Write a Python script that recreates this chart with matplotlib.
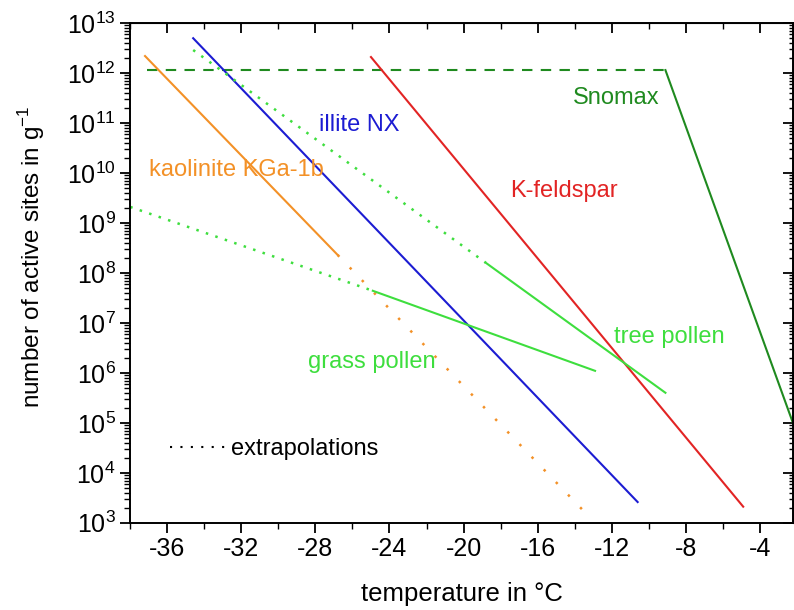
import numpy as np
import matplotlib.pyplot as plt
from matplotlib.lines import Line2D
from matplotlib.ticker import LogLocator, MultipleLocator, NullFormatter

plt.rcParams['font.family'] = ['Liberation Sans', 'DejaVu Sans']
plt.rcParams['mathtext.fontset'] = 'custom'
plt.rcParams['mathtext.rm'] = 'Liberation Sans'
plt.rcParams['axes.unicode_minus'] = False

# line segments: temperature (degC), active sites per g
snomax_dash_T = [-37.1, -9.1]
snomax_dash_n = [1.15e12, 1.15e12]
snomax_T = [-9.1, -2.0]
snomax_n = [1.15e12, 6.0e4]

kaol_T = [-37.2, -26.8]
kaol_n = [2.2e12, 2.3e8]
kaol_ext_T = [-26.8, -13.5]
kaol_ext_n = [2.3e8, 1.7e3]

illite_T = [-34.6, -10.6]
illite_n = [5.0e12, 2.6e3]

kfeld_T = [-25.0, -4.9]
kfeld_n = [2.1e12, 2.1e3]

tree_ext_T = [-34.6, -18.8]
tree_ext_n = [2.9e12, 1.6e8]
tree_T = [-18.8, -9.1]
tree_n = [1.6e8, 4.0e5]

grass_ext_T = [-38.0, -24.9]
grass_ext_n = [2.1e9, 4.4e7]
grass_T = [-24.9, -12.9]
grass_n = [4.4e7, 1.1e6]

c_orange = '#f39127'
c_blue = '#1c1cd2'
c_red = '#e22424'
c_lgreen = '#3ede3e'
c_dgreen = '#1f8a1f'

fig = plt.figure(figsize=(7.94, 6.10), dpi=100)
ax = fig.add_axes([0.164, 0.143, 0.835, 0.819])

ax.plot(snomax_dash_T, snomax_dash_n, color=c_dgreen, lw=1.5, ls=(0, (5, 4)))
ax.plot(snomax_T, snomax_n, color=c_dgreen, lw=1.5)
ax.plot(kaol_T, kaol_n, color=c_orange, lw=1.5)
ax.plot(kaol_ext_T, kaol_ext_n, color=c_orange, lw=1.8, ls=(0, (1, 6)))
ax.plot(illite_T, illite_n, color=c_blue, lw=1.5)
ax.plot(kfeld_T, kfeld_n, color=c_red, lw=1.5)
ax.plot(tree_ext_T, tree_ext_n, color=c_lgreen, lw=1.8, ls=(0, (1, 3)))
ax.plot(tree_T, tree_n, color=c_lgreen, lw=1.5)
ax.plot(grass_ext_T, grass_ext_n, color=c_lgreen, lw=1.8, ls=(0, (1, 3)))
ax.plot(grass_T, grass_n, color=c_lgreen, lw=1.5)

fs = 17
ax.text(-27.8, 10**10.96, 'illite NX', color=c_blue, fontsize=fs, va='center')
ax.text(-37.0, 10**10.06, 'kaolinite KGa-1b', color=c_orange, fontsize=fs, va='center')
ax.text(-14.1, 10**11.5, 'Snomax', color=c_dgreen, fontsize=fs, va='center')
ax.text(-17.5, 10**9.64, 'K-feldspar', color=c_red, fontsize=fs, va='center')
ax.text(-11.9, 10**6.72, 'tree pollen', color=c_lgreen, fontsize=fs, va='center')
ax.text(-28.4, 10**6.22, 'grass pollen', color=c_lgreen, fontsize=fs, va='center')

h = Line2D([], [], color='black', lw=1.5, ls=(0, (1, 4)))
ax.legend([h], ['extrapolations'], loc='center left', bbox_to_anchor=(0.06, 0.148),
          frameon=False, fontsize=17, handlelength=2.4, handletextpad=0.2,
          borderpad=0, borderaxespad=0)

ax.set_yscale('log')
ax.set_xlim(-38, -2.2)
ax.set_ylim(1e3, 1e13)
ax.xaxis.set_minor_locator(MultipleLocator(2))
ax.set_xticks(np.arange(-36, -3, 4))
ax.yaxis.set_major_locator(LogLocator(base=10, numticks=20))
ax.yaxis.set_minor_locator(LogLocator(base=10, subs=np.arange(2, 10), numticks=20))
ax.yaxis.set_minor_formatter(NullFormatter())
ax.tick_params(which='major', direction='out', length=7, width=1.3, labelsize=18)
ax.tick_params(which='minor', direction='out', length=4, width=1.0)
for s in ax.spines.values():
    s.set_linewidth(1.4)

ident = (lambda v: v, lambda v: v)
top = ax.secondary_xaxis('top', functions=ident)
top.xaxis.set_major_locator(MultipleLocator(4))
top.xaxis.set_minor_locator(MultipleLocator(2))
top.tick_params(which='major', direction='in', length=7, width=1.3, labeltop=False)
top.tick_params(which='minor', direction='in', length=4, width=1.0)
right = ax.secondary_yaxis('right', functions=ident)
right.yaxis.set_major_locator(LogLocator(base=10, numticks=20))
right.yaxis.set_minor_locator(LogLocator(base=10, subs=np.arange(2, 10), numticks=20))
right.yaxis.set_minor_formatter(NullFormatter())
right.tick_params(which='major', direction='in', length=7, width=1.3, labelright=False)
right.tick_params(which='minor', direction='in', length=3, width=1.0, labelright=False)

ax.set_xlabel('temperature in °C', fontsize=18.5, labelpad=15)
ax.set_ylabel('number of active sites in g$^{-1}$', fontsize=17.5)
ax.yaxis.set_label_coords(-0.126, 0.532)

fig.savefig('out.png', dpi=100)
